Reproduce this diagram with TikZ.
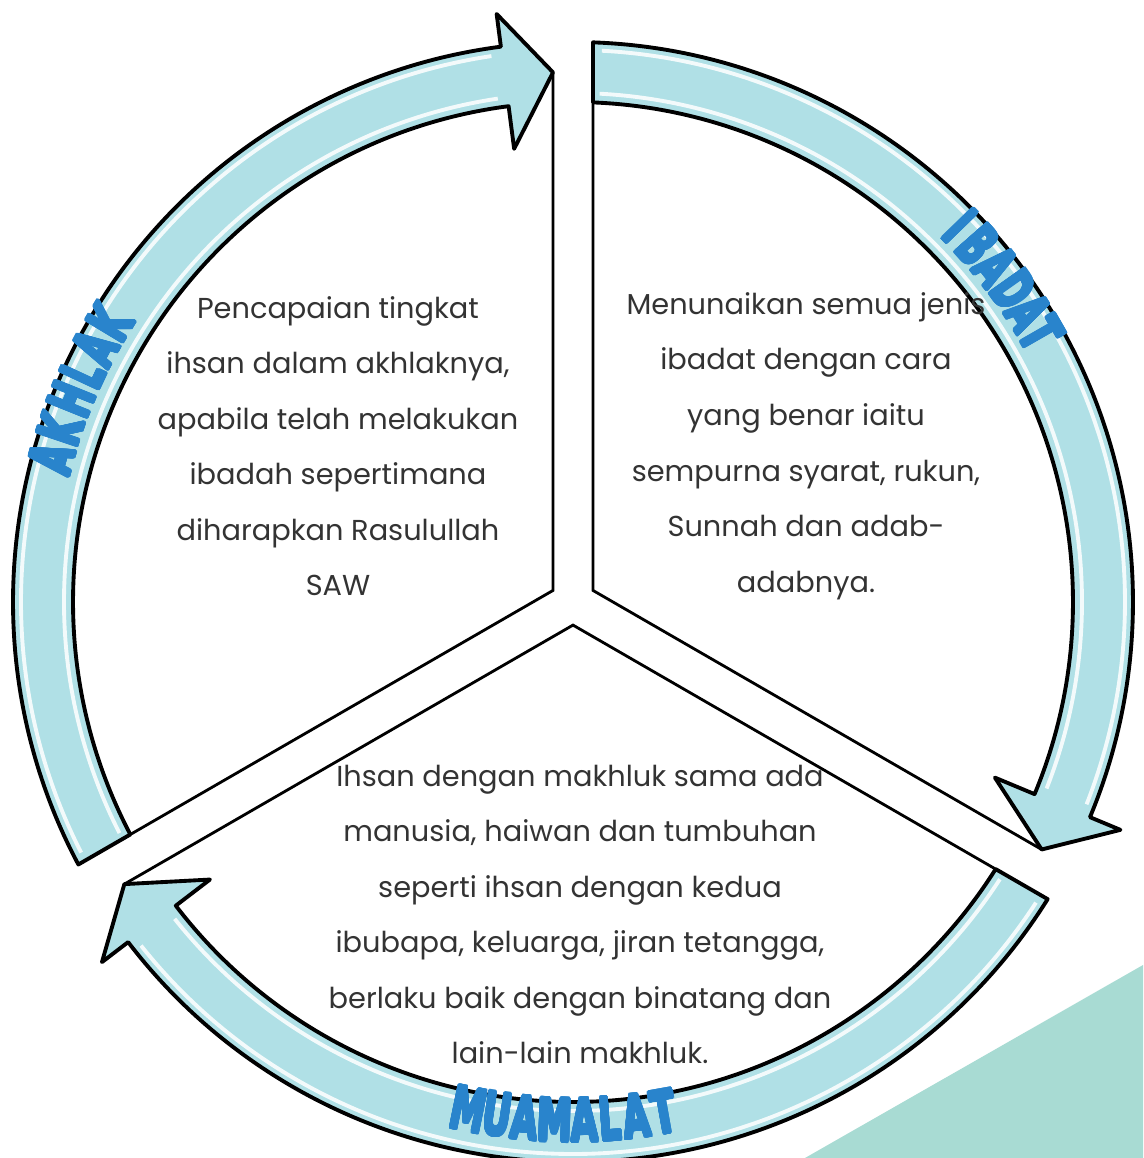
\documentclass[tikz,border=0pt]{standalone}
\usepackage{fontspec}
\usepackage{contour}
\setmainfont{Poppins}
\newfontfamily\badgefont{DejaVu Sans}
\usetikzlibrary{calc}
\contourlength{0.55pt}
\contournumber{24}

\definecolor{bandfill}{RGB}{176,224,230}
\definecolor{labelblue}{RGB}{41,132,204}
\definecolor{cornerteal}{RGB}{168,219,211}

\begin{document}
\begin{tikzpicture}[
    band/.style={draw=black, line width=1.1pt, fill=bandfill, line join=round},
    gloss/.style={white, line width=1.1pt, opacity=.85},
    divider/.style={draw=black, line width=.8pt},
    body/.style={align=center, text=black!80, font=\fontsize{8.2}{15.8}\selectfont},
    badge/.style={text=labelblue, inner sep=0pt, font=\fontsize{16.5}{16.5}\badgefont\bfseries}
  ]
  \useasboundingbox (-5.73,-5.56) rectangle (5.70,6.02);

  % corner triangle
  \fill[cornerteal] (2.32,-5.56) -- (5.70,-3.63) -- (5.70,-5.56) -- cycle;

  % three sectors: arrow band + dividers
  \foreach \m/\n in {150/akh, 30/iba, 270/mua} {
    \coordinate (\n-c) at (\m:0.231);
    \draw[band] ({\m+60-asin(.2/5.6)}:5.6)
      arc[start angle={\m+60-asin(.2/5.6)}, end angle={\m-52.6}, radius=5.6]
      -- ({\m-52.6}:5.93) -- ({\m-60+asin(.2/5.3)}:5.3) coordinate (\n-tip)
      -- ({\m-52.6}:4.57) -- ({\m-52.6}:5)
      arc[start angle={\m-52.6}, end angle={\m+60-asin(.2/5)}, radius=5]
      coordinate (\n-foot) -- cycle;
    \draw[gloss] ({\m+57}:5.52) arc[start angle={\m+57}, end angle={\m-51.5}, radius=5.52];
    \draw[gloss] ({\m+57}:5.09) arc[start angle={\m+57}, end angle={\m-51.5}, radius=5.09];
    \draw[divider] (\n-foot) -- (\n-c) -- (\n-tip);
  }

  % texts
  \node[body] (akh-text) at (-2.35,1.56) {Pencapaian tingkat\\ihsan dalam akhlaknya,\\apabila telah melakukan\\ibadah sepertimana\\diharapkan Rasulullah\\SAW};
  \node[body] (iba-text) at (2.33,1.56) {Menunaikan semua jenis\\ibadat dengan cara\\yang benar iaitu\\sempurna syarat, rukun,\\Sunnah dan adab-\\adabnya.};
  \node[body] (mua-text) at (0.07,-3.125) {Ihsan dengan makhluk sama ada\\manusia, haiwan dan tumbuhan\\seperti ihsan dengan kedua\\ibubapa, keluarga, jiran tetangga,\\berlaku baik dengan binatang dan\\lain-lain makhluk.};

  % labels along the ring
  \foreach \ch/\t [count=\i] in {A/164.6, K/161.4, H/158.0, L/155.0, A/152.0, K/148.9}
    \node[badge, rotate=\t-90] (akh-l\i) at (\t:5.4) {\scalebox{.6}[1]{\contour{labelblue}{\ch}}};
  \foreach \ch/\t [count=\i] in {I/44.2, B/41.4, A/38.4, D/35.3, A/32.4, T/29.8}
    \node[badge, rotate=\t-90] (iba-l\i) at (\t:5.39) {\scalebox{.6}[1]{\contour{labelblue}{\ch}}};
  \foreach \ch/\t [count=\i] in {M/-101.6, U/-98.4, A/-95.3, M/-92.0, A/-88.7, L/-85.9, A/-83.0, T/-79.9}
    \node[badge, rotate=\t+90] (mua-l\i) at (\t:5.19) {\scalebox{.6}[1]{\contour{labelblue}{\ch}}};
\end{tikzpicture}
\end{document}
